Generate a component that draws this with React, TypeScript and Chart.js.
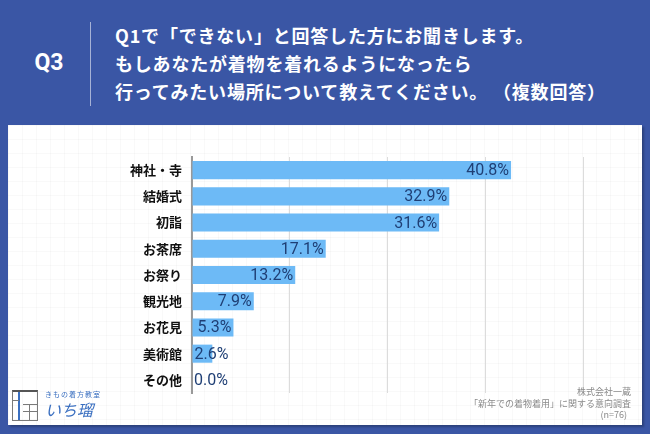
import React, { useEffect, useRef } from "react";
import { Chart, registerables } from "chart.js";

Chart.register(...registerables);

const categories = ["神社・寺", "結婚式", "初詣", "お茶席", "お祭り", "観光地", "お花見", "美術館", "その他"];
const values = [40.8, 32.9, 31.6, 17.1, 13.2, 7.9, 5.3, 2.6, 0.0];
const titleLines = [
  "Q1で「できない」と回答した方にお聞きします。",
  "もしあなたが着物を着れるようになったら",
  "行ってみたい場所について教えてください。 （複数回答）",
];
const footerLines = ["株式会社一蔵", "「新年での着物着用」に関する意向調査", "(n=76)"];

const BLUE = "#3a56a5";
const BAR = "#6dbaf6";
const LABEL = "#1f3f75";

const valueLabels = {
  id: "valueLabels",
  afterDatasetsDraw(chart: any) {
    const ctx = chart.ctx;
    const meta = chart.getDatasetMeta(0);
    ctx.save();
    ctx.font = "16px Roboto, 'Liberation Sans', Arial, sans-serif";
    ctx.fillStyle = LABEL;
    ctx.textBaseline = "middle";
    meta.data.forEach((bar: any, i: number) => {
      const text = values[i].toFixed(1) + "%";
      const w = ctx.measureText(text).width;
      const len = bar.x - bar.base;
      if (len >= w + 4) {
        ctx.textAlign = "right";
        ctx.fillText(text, bar.x - 2, bar.y + 1);
      } else {
        ctx.textAlign = "left";
        ctx.fillText(text, bar.base + 2, bar.y + 1);
      }
    });
    ctx.restore();
  },
};

export default function App() {
  const ref = useRef<HTMLCanvasElement>(null);
  useEffect(() => {
    if (!ref.current) return;
    const chart = new Chart(ref.current, {
      type: "bar",
      data: {
        labels: categories,
        datasets: [
          {
            data: values,
            backgroundColor: BAR,
            barPercentage: 0.69,
            categoryPercentage: 1,
          },
        ],
      },
      options: {
        indexAxis: "y",
        animation: false,
        responsive: false,
        maintainAspectRatio: false,
        layout: { padding: { left: 0, right: 67, top: 32, bottom: 32 } },
        plugins: { legend: { display: false }, tooltip: { enabled: false } },
        scales: {
          x: {
            min: 0,
            max: 50,
            ticks: { display: false, stepSize: 12.5 },
            grid: { color: "#dcdcdc", lineWidth: 1, drawTicks: false },
            border: { display: false },
            afterFit: (s: any) => {
              s.height = 0;
            },
          },
          y: {
            ticks: {
              color: "#111",
              padding: 10,
              font: { family: "'Noto Sans CJK JP'", size: 13, weight: "bold" },
            },
            grid: { display: false, drawTicks: false },
            border: { display: true, color: "#999", width: 2 },
            afterFit: (s: any) => {
              s.width = 192;
            },
          },
        },
      },
      plugins: [valueLabels],
    });
    return () => chart.destroy();
  }, []);

  return (
    <div
      style={{
        position: "absolute",
        left: 0,
        top: 0,
        width: 650,
        height: 434,
        background: BLUE,
        overflow: "hidden",
        fontFamily: "'Noto Sans CJK JP', sans-serif",
      }}
    >
      <div
        style={{
          position: "absolute",
          left: 20,
          width: 58,
          top: 48,
          textAlign: "center",
          color: "#fff",
          fontSize: 23,
          fontWeight: "bold",
          lineHeight: "30px",
          fontFamily: "Roboto, 'Liberation Sans', Arial, sans-serif",
        }}
      >
        Q3
      </div>
      <div style={{ position: "absolute", left: 90, top: 22, width: 1, height: 84, background: "rgba(255,255,255,0.55)" }} />
      {titleLines.map((t, i) => (
        <div
          key={i}
          style={{
            position: "absolute",
            left: 115,
            top: 22 + i * 28,
            color: "#fff",
            fontSize: 18,
            fontWeight: "bold",
            lineHeight: "26px",
            letterSpacing: "0.8px",
            whiteSpace: "pre",
          }}
        >
          {t}
        </div>
      ))}
      <div
        style={{
          position: "absolute",
          left: 8,
          top: 125,
          width: 634,
          height: 300,
          background: "#fff",
          backgroundImage:
            "linear-gradient(rgba(0,0,0,0.025) 1px, transparent 1px), linear-gradient(90deg, rgba(0,0,0,0.025) 1px, transparent 1px)",
          backgroundSize: "14px 14px",
          boxShadow: "2px 2px 2px rgba(0,0,0,0.25)",
        }}
      />
      <canvas ref={ref} width={650} height={300} style={{ position: "absolute", left: 0, top: 125, width: 650, height: 300 }} />
      {footerLines.map((t, i) => (
        <div
          key={i}
          style={{
            position: "absolute",
            right: 650 - 631 + (i === 2 ? 4 : 0),
            top: 386 + i * 11.5,
            color: "#8a8a8a",
            fontSize: 9,
            lineHeight: "11px",
            whiteSpace: "nowrap",
          }}
        >
          {t}
        </div>
      ))}
      {/* logo */}
      <div style={{ position: "absolute", left: 12, top: 390, width: 24, height: 28, border: "1px solid #7a7a7a", borderTop: "2px solid #555" }}>
        <div style={{ position: "absolute", left: 5, top: 0, width: 2, height: 28, background: "#3a6fc0" }} />
        <div style={{ position: "absolute", left: 10, top: 12, width: 14, height: 1, background: "#7a7a7a" }} />
        <div style={{ position: "absolute", left: 10, top: 19, width: 14, height: 1, background: "#7a7a7a" }} />
        <div style={{ position: "absolute", left: 16, top: 12, width: 1, height: 16, background: "#7a7a7a" }} />
        <div style={{ position: "absolute", left: 0, top: 8, width: 6, height: 1, background: "#7a7a7a" }} />
      </div>
      <div style={{ position: "absolute", left: 45, top: 390, color: "#3a6fc0", fontSize: 7, lineHeight: "8px", whiteSpace: "nowrap", letterSpacing: "1px" }}>
        きもの着方教室
      </div>
      <div style={{ position: "absolute", left: 45, top: 399, color: "#3a6fc0", fontSize: 16, lineHeight: "20px", whiteSpace: "nowrap", fontStyle: "italic" }}>
        いち瑠
      </div>
    </div>
  );
}
